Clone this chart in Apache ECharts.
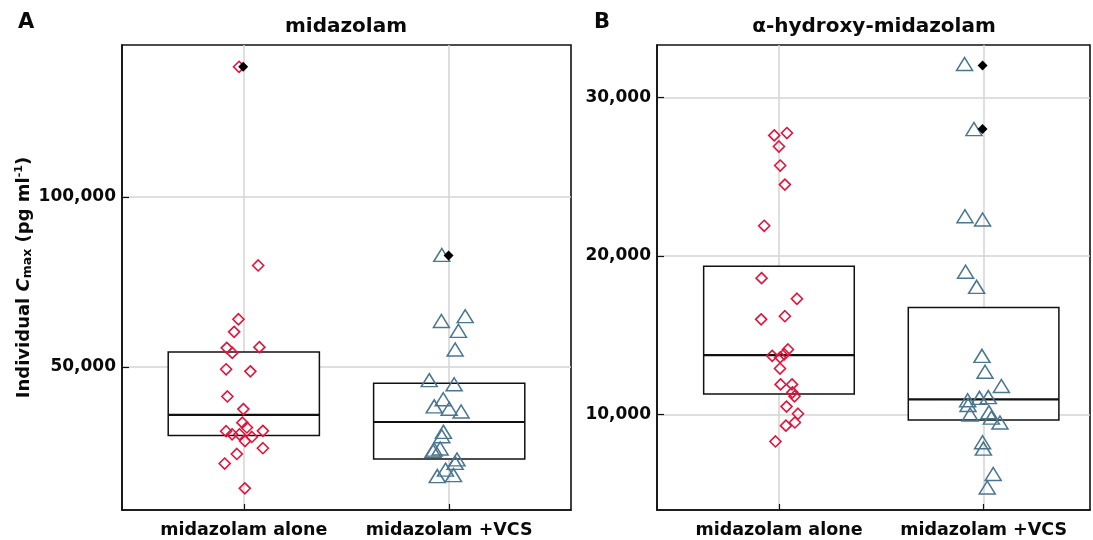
<!DOCTYPE html>
<html>
<head>
<meta charset="utf-8">
<script src="https://cdn.jsdelivr.net/npm/echarts@6/dist/echarts.min.js"></script>
<style>
html,body{margin:0;padding:0;background:#fff;}
#chart{width:1093px;height:540px;}
</style>
</head>
<body>
<div id="chart"></div>
<script>
// ---------- data ----------
const categories = ['midazolam alone', 'midazolam +VCS'];
const panelTitles = ['midazolam', 'α-hydroxy-midazolam'];
const panelLetters = ['A', 'B'];
const ticksA = [50000, 100000];
const ticksB = [10000, 20000, 30000];

// Panel A: midazolam Cmax (pg/ml)
const midAloneA = [138200, 79800, 64000, 60300, 55600, 54100, 55800, 49300, 48700, 41300, 37600, 33600, 32200, 31100, 31200, 30200, 30200, 29400, 28200, 26100, 24400, 21600, 14300];
const midAloneAJitter = [-0.023, 0.070, -0.026, -0.047, -0.083, -0.056, 0.076, -0.086, 0.032, -0.080, -0.002, -0.007, 0.015, -0.086, 0.093, -0.057, -0.021, 0.039, 0.006, 0.093, -0.034, -0.093, 0.005];
const midVcsA = [82900, 63500, 64900, 60600, 55100, 46100, 44900, 40500, 38400, 37700, 36900, 30900, 29600, 26000, 25700, 25300, 22800, 21800, 19800, 17900, 18200];
const midVcsAJitter = [-0.036, -0.038, 0.078, 0.045, 0.029, -0.097, 0.024, -0.029, -0.073, 0.000, 0.058, -0.028, -0.036, -0.044, -0.073, -0.079, 0.038, 0.029, -0.018, -0.058, 0.021];
const outlierA = [[1, 138200], [2, 82700]];
const outlierAJitter = [-0.003, -0.003];
// box stats [Q1, median, Q3]
const boxA = [[29800, 35900, 54400], [22900, 33800, 45200]];

// Panel B: alpha-hydroxy-midazolam Cmax (pg/ml)
const midAloneB = [27600, 27750, 26900, 25700, 24500, 21900, 18600, 17300, 16000, 16200, 14100, 13700, 13600, 13800, 12900, 11900, 11900, 11400, 11150, 10500, 10050, 9300, 9500, 8300];
const midAloneBJitter = [-0.023, 0.039, 0.000, 0.006, 0.029, -0.072, -0.085, 0.088, -0.087, 0.029, 0.044, -0.033, 0.006, 0.026, 0.005, 0.008, 0.064, 0.066, 0.076, 0.037, 0.093, 0.034, 0.078, -0.017];
const midVcsB = [32100, 28000, 22500, 22300, 19000, 18050, 13700, 12700, 11800, 10900, 11050, 11100, 10600, 10000, 10150, 9800, 9500, 8250, 7850, 6250, 5400];
const midVcsBJitter = [-0.093, -0.047, -0.091, -0.005, -0.088, -0.034, -0.008, 0.007, 0.087, -0.078, -0.020, 0.023, -0.076, -0.066, 0.026, 0.038, 0.080, -0.005, -0.001, 0.047, 0.018];
const outlierB = [[2, 32000], [2, 28000]];
const outlierBJitter = [-0.005, -0.005];
const boxB = [[11300, 13750, 19350], [9650, 10950, 16750]];

// ---------- styles ----------
const FONT = 'DejaVu Sans';
const RED = '#e0143c';
const BLUE = '#4a778f';
const GRIDC = '#d4d4d4';
const AXC = '#111';
const BOX_HALF = 0.368;

function pts(vals, jit, cat) { return vals.map((v, i) => [cat + jit[i], v]); }
function outPts(arr, jit) { return arr.map((p, i) => [p[0] + jit[i], p[1]]); }
function fmt(v) { return v.toLocaleString('en-US'); }

function xAxisFor(gi, min, max) {
  return {
    type: 'value', gridIndex: gi, min: min, max: max,
    axisLine: { show: true, onZero: false, lineStyle: { color: AXC, width: 1.6 } },
    axisTick: { show: true, inside: true, length: 6, customValues: [1, 2], lineStyle: { color: AXC, width: 1.2 } },
    axisLabel: { customValues: [1, 2], formatter: v => categories[Math.round(v) - 1], margin: 11,
      fontFamily: FONT, fontWeight: 'bold', fontSize: 17.5, color: '#0a0a0a' },
    splitLine: { show: true, lineStyle: { color: GRIDC, width: 1.5 } }
  };
}
function yAxisFor(gi, min, max, ticks, withName) {
  const ax = {
    type: 'value', gridIndex: gi, min: min, max: max,
    axisLine: { show: true, onZero: false, lineStyle: { color: AXC, width: 1.6 } },
    axisTick: { show: true, inside: true, length: 7, customValues: ticks, lineStyle: { color: AXC, width: 1.2 } },
    axisLabel: { customValues: ticks, formatter: fmt, margin: 6,
      fontFamily: FONT, fontWeight: 'bold', fontSize: 17, color: '#0a0a0a' },
    splitLine: { show: true, lineStyle: { color: GRIDC, width: 1.5 } }
  };
  if (withName) {
    ax.name = '{a|Individual }{c|C}{sub|max}{a| (pg ml}{sup|-1}{a|)}';
    ax.nameLocation = 'middle';
    ax.nameRotate = 90;
    ax.nameGap = 80;
    ax.nameTextStyle = {
      rich: {
        a: { fontFamily: FONT, fontWeight: 'bold', fontSize: 18, color: '#0a0a0a' },
        c: { fontFamily: FONT, fontWeight: 'bold', fontStyle: 'italic', fontSize: 18, color: '#0a0a0a' },
        sub: { fontFamily: FONT, fontWeight: 'bold', fontSize: 12.5, color: '#0a0a0a', padding: [8, 0, 0, 0] },
        sup: { fontFamily: FONT, fontWeight: 'bold', fontSize: 11, color: '#0a0a0a', padding: [0, 0, 10, 0] }
      }
    };
  }
  return ax;
}

function boxSeries(gi, stats) {
  return {
    type: 'custom', xAxisIndex: gi, yAxisIndex: gi, z: 3, silent: true,
    data: stats.map((s, i) => [i + 1, s[0], s[1], s[2]]),
    renderItem: function (params, api) {
      const x = api.value(0), q1 = api.value(1), med = api.value(2), q3 = api.value(3);
      const tl = api.coord([x - BOX_HALF, q3]);
      const br = api.coord([x + BOX_HALF, q1]);
      const ml = api.coord([x - BOX_HALF, med]);
      const mr = api.coord([x + BOX_HALF, med]);
      return {
        type: 'group',
        children: [
          { type: 'rect', shape: { x: tl[0], y: tl[1], width: br[0] - tl[0], height: br[1] - tl[1] },
            style: { fill: '#fff', stroke: '#111', lineWidth: 1.5 } },
          { type: 'line', shape: { x1: ml[0], y1: ml[1], x2: mr[0], y2: mr[1] },
            style: { stroke: '#111', lineWidth: 2.2 } }
        ]
      };
    }
  };
}
function diamondSeries(gi, data) {
  return { type: 'scatter', xAxisIndex: gi, yAxisIndex: gi, z: 5, data: data,
    symbol: 'diamond', symbolSize: 11,
    itemStyle: { color: 'rgba(0,0,0,0)', borderColor: RED, borderWidth: 1.6, opacity: 1 } };
}
function triSeries(gi, data) {
  return { type: 'scatter', xAxisIndex: gi, yAxisIndex: gi, z: 5, data: data,
    symbol: 'triangle', symbolSize: [16, 13],
    itemStyle: { color: 'rgba(0,0,0,0)', borderColor: BLUE, borderWidth: 1.5, opacity: 1 } };
}
function outSeries(gi, data) {
  return { type: 'scatter', xAxisIndex: gi, yAxisIndex: gi, z: 6, data: data,
    symbol: 'diamond', symbolSize: 10, itemStyle: { color: '#000', opacity: 1 } };
}

const chart = echarts.init(document.getElementById('chart'), null, { renderer: 'canvas' });
chart.setOption({
  animation: false,
  backgroundColor: '#fff',
  grid: [
    { left: 122, top: 45, width: 449, height: 465, show: true, borderColor: AXC, borderWidth: 1.6, backgroundColor: 'transparent', containLabel: false, outerBoundsMode: 'none' },
    { left: 657, top: 45, width: 433, height: 465, show: true, borderColor: AXC, borderWidth: 1.6, backgroundColor: 'transparent', containLabel: false, outerBoundsMode: 'none' }
  ],
  xAxis: [xAxisFor(0, 0.407, 2.593), xAxisFor(1, 0.404, 2.52)],
  yAxis: [yAxisFor(0, 7940, 144600, ticksA, true), yAxisFor(1, 3980, 33300, ticksB, false)],
  graphic: [
    { type: 'text', left: 18, top: 12, style: { text: panelLetters[0], fontFamily: FONT, fontWeight: 'bold', fontSize: 21, fill: '#0a0a0a' } },
    { type: 'text', left: 594, top: 12, style: { text: panelLetters[1], fontFamily: FONT, fontWeight: 'bold', fontSize: 21, fill: '#0a0a0a' } },
    { type: 'text', x: 346, y: 27, style: { text: panelTitles[0], fontFamily: FONT, fontWeight: 'bold', fontSize: 20, fill: '#0a0a0a', align: 'center', verticalAlign: 'middle' } },
    { type: 'text', x: 874, y: 27, style: { text: panelTitles[1], fontFamily: FONT, fontWeight: 'bold', fontSize: 20, fill: '#0a0a0a', align: 'center', verticalAlign: 'middle' } }
  ],
  series: [
    boxSeries(0, boxA),
    diamondSeries(0, pts(midAloneA, midAloneAJitter, 1)),
    triSeries(0, pts(midVcsA, midVcsAJitter, 2)),
    outSeries(0, outPts(outlierA, outlierAJitter)),
    boxSeries(1, boxB),
    diamondSeries(1, pts(midAloneB, midAloneBJitter, 1)),
    triSeries(1, pts(midVcsB, midVcsBJitter, 2)),
    outSeries(1, outPts(outlierB, outlierBJitter))
  ]
});
</script>
</body>
</html>
